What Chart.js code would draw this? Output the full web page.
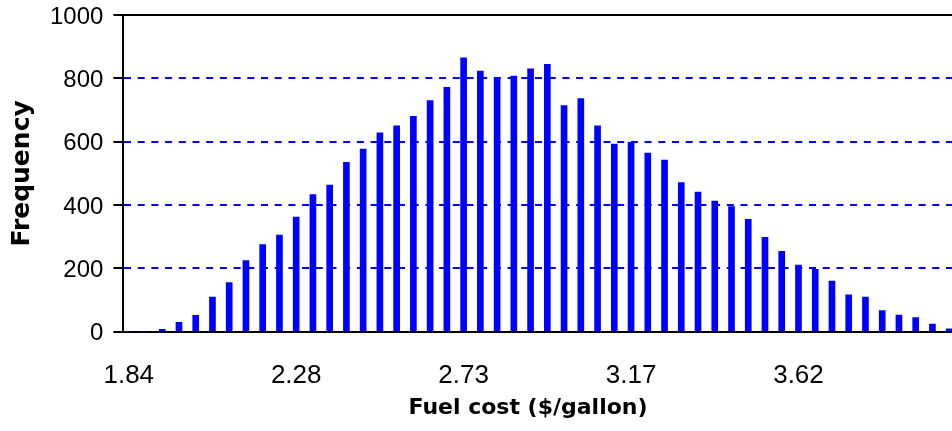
<!DOCTYPE html>
<html>
<head>
<meta charset="utf-8">
<script src="https://cdn.jsdelivr.net/npm/chart.js@4.4.1/dist/chart.umd.min.js"></script>
<style>
  html, body { margin: 0; padding: 0; background: #fff; overflow: hidden; }
  #wrap { width: 1056px; height: 431px; position: relative; }
</style>
</head>
<body>
<div id="wrap"><canvas id="chart"></canvas></div>
<script>
// histogram bins (first two bins are empty), each bin ~0.0445 $/gallon wide
const frequencies = [0, 0, 8, 30, 52, 110, 155, 225, 275, 305, 362, 433, 463, 535, 577, 628, 650, 680,
  730, 772, 865, 823, 798, 807, 830, 844, 714, 736, 650, 593, 598, 564, 542, 471, 441, 413, 395,
  355, 298, 254, 211, 197, 160, 117, 110, 67, 53, 45, 24, 9];
const xTickLabels = ['1.84', '2.28', '2.73', '3.17', '3.62'];
const binsPerTick = 10;
const yTicks = [0, 200, 400, 600, 800, 1000];

const sans = "'Liberation Sans', Arial, sans-serif";
const bold = "'DejaVu Sans', Verdana, sans-serif";
const xMin = -0.32, xMax = 55.38;

new Chart(document.getElementById('chart'), {
    type: 'bar',
    data: {
        datasets: [{
            data: frequencies.map((f, i) => ({ x: i, y: f })),
            backgroundColor: '#0000ff',
            borderWidth: 0,
            barThickness: 6,
        }],
    },
    options: {
        responsive: true,
        maintainAspectRatio: false,
        animation: false,
        layout: { padding: { left: 0, top: 0, right: 0, bottom: 0 } },
        plugins: {
            legend: { display: false },
            tooltip: { enabled: false },
            title: {
                display: true,
                position: 'bottom',
                text: 'Fuel cost ($/gallon)',
                color: '#000',
                font: { family: bold, size: 22, weight: 'bold', lineHeight: 0.8 },
                padding: { top: -20, bottom: 14 },
            },
        },
        scales: {
            x: {
                type: 'linear',
                offset: false,
                min: xMin,
                max: xMax,
                grid: { display: false, drawTicks: false, tickLength: 0 },
                border: { color: '#000', width: 2 },
                afterBuildTicks: s => { s.ticks = xTickLabels.map((_, i) => ({ value: i * binsPerTick })); },
                ticks: {
                    autoSkip: false,
                    maxRotation: 0,
                    padding: 36,
                    color: '#000',
                    font: { family: sans, size: 26, lineHeight: 0.6 },
                    callback: v => xTickLabels[Math.round(v / binsPerTick)],
                },
            },
            xTop: {
                type: 'linear',
                position: 'top',
                offset: false,
                min: xMin,
                max: xMax,
                grid: { display: false, drawTicks: false },
                ticks: { display: false },
                border: { color: '#000', width: 2 },
            },
            y: {
                min: 0,
                max: 1000,
                afterBuildTicks: s => { s.ticks = yTicks.map(v => ({ value: v })); },
                grid: {
                    color: c => (c.tick && (c.tick.value === 0 || c.tick.value === 1000)) ? 'rgba(0,0,0,0)' : '#0000ff',
                    lineWidth: 2,
                    drawTicks: true,
                    tickLength: 10,
                    tickColor: '#000',
                    tickWidth: 2,
                },
                border: { color: '#000', width: 2, dash: [7, 6.7] },
                ticks: {
                    padding: 10,
                    labelOffset: 2,
                    color: '#000',
                    font: { family: sans, size: 24, lineHeight: 0.42 },
                    callback: v => String(v),
                },
                title: {
                    display: true,
                    text: 'Frequency',
                    color: '#000',
                    font: { family: bold, size: 25, weight: 'bold', lineHeight: 1.2 },
                    padding: { top: 7, bottom: 3 },
                },
            },
        },
    },
});
</script>
</body>
</html>
